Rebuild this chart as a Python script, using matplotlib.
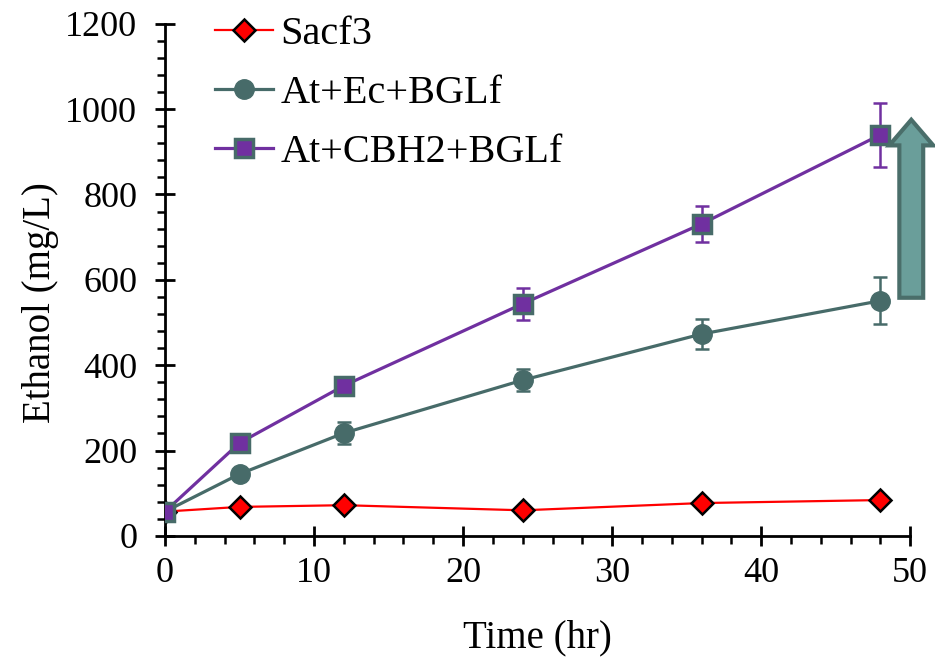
import matplotlib.pyplot as plt
import matplotlib.patches as patches
import matplotlib.ticker as plticker

plt.rcParams['font.family'] = ['Liberation Serif', 'DejaVu Serif']

# Data
time = [0, 5, 12, 24, 36, 48]
sacf3 = [57, 68, 72, 60, 77, 84]
ec = [57, 145, 241, 365, 473, 551]
ecErr = [0, 0, 25, 25, 35, 55]
cbh2 = [57, 218, 352, 544, 731, 940]
cbh2Err = [0, 0, 0, 38, 43, 75]
labels = ['Sacf3', 'At+Ec+BGLf', 'At+CBH2+BGLf']

red = '#ff0000'
teal = '#476b69'
purple = '#7030a0'

fig = plt.figure(figsize=(9.35, 6.6), dpi=100)
ax = fig.add_axes([0.1765, 0.188, 0.797, 0.776])

# error bars first, lines + markers on top
ax.errorbar(time, ec, yerr=ecErr, fmt='none', ecolor=teal, capsize=5,
            elinewidth=1.8, capthick=1.8, zorder=2)
ax.errorbar(time, cbh2, yerr=cbh2Err, fmt='none', ecolor=purple, capsize=5,
            elinewidth=1.8, capthick=1.8, zorder=2)

ax.plot(time, sacf3, color=red, lw=1.6, marker='D', markersize=11,
        markerfacecolor=red, markeredgecolor='black', markeredgewidth=1.8,
        label=labels[0], zorder=3)
ax.plot(time, ec, color=teal, lw=2.3, marker='o', markersize=14,
        markerfacecolor=teal, markeredgecolor=teal, label=labels[1], zorder=4)
ax.plot(time, cbh2, color=purple, lw=2.3, marker='s', markersize=13,
        markerfacecolor=purple, markeredgecolor=teal, markeredgewidth=2.5,
        label=labels[2], zorder=5)

# Big arrow at the right edge
arrow = patches.FancyArrow(50.07, 558, 0, 417, width=1.6, head_width=2.95,
                           head_length=60, length_includes_head=True,
                           facecolor='#6a9e9a', edgecolor='#4a6e6a', lw=3,
                           clip_on=False, zorder=6)
ax.add_patch(arrow)

ax.set_xlim(0, 50)
ax.set_ylim(0, 1200)
ax.xaxis.set_major_locator(plticker.MultipleLocator(10))
ax.xaxis.set_minor_locator(plticker.MultipleLocator(2))
ax.yaxis.set_major_locator(plticker.MultipleLocator(200))
ax.yaxis.set_minor_locator(plticker.MultipleLocator(40))

for s in ['top', 'right']:
    ax.spines[s].set_visible(False)
for s in ['left', 'bottom']:
    ax.spines[s].set_linewidth(2)

ax.tick_params(which='major', direction='inout', length=14, width=2, labelsize=26)
ax.tick_params(axis='y', which='major', pad=13)
ax.tick_params(axis='x', which='major', pad=8)
ax.tick_params(which='minor', direction='out', length=6, width=1.8)

ax.set_xlabel('Time (hr)', fontsize=28)
ax.set_ylabel('Ethanol (mg/L)', fontsize=28)
ax.xaxis.set_label_coords(0.5, -0.163)
ax.yaxis.set_label_coords(-0.142, 0.455)

ax.legend(loc='upper left', bbox_to_anchor=(0.018, 1.087), frameon=False,
          fontsize=29, handlelength=1.45, handletextpad=0.18, labelspacing=0.55,
          numpoints=1)

fig.savefig('out.png', dpi=100)
